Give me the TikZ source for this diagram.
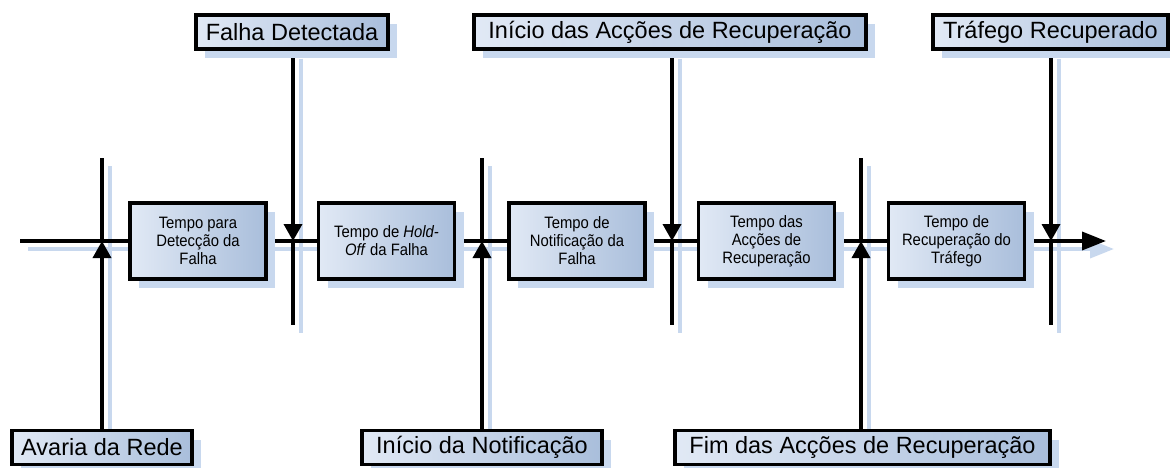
\documentclass[tikz,border=0pt]{standalone}
\usepackage{fontspec}
\setmainfont{Liberation Sans}
\newfontfamily\narrowfont[FakeStretch=0.9]{Liberation Sans}
\usetikzlibrary{arrows.meta,shadows,backgrounds,calc}
\definecolor{boxl}{HTML}{E1E9F5}
\definecolor{boxr}{HTML}{A9BEDB}
\definecolor{shadowc}{HTML}{C8D8EE}
\tikzset{
  lbl/.style={draw=black, line width=3.5pt, left color=boxl, right color=boxr,
    inner sep=0pt, minimum height=34, font=\fontsize{23.5}{26}\selectfont,
    drop shadow={shadow xshift=9pt, shadow yshift=-9pt, fill=shadowc, opacity=1}},
  tbox/.style={draw=black, line width=3.5pt, left color=boxl, right color=boxr,
    inner sep=0pt, minimum width=136, minimum height=76, align=center,
    font=\narrowfont\fontsize{16.5}{18}\selectfont,
    drop shadow={shadow xshift=9pt, shadow yshift=-9pt, fill=shadowc, opacity=1}},
  mline/.style={line width=3.5pt, draw=black},
  sline/.style={line width=3.5pt, draw=shadowc},
  tip/.style={-{Triangle[length=17pt,width=18pt]}},
  endtip/.style={-{Triangle[length=24pt,width=18pt]}},
}
\begin{document}
\begin{tikzpicture}[x=1pt,y=-1pt]
\useasboundingbox (0,0) rectangle (1170,468);
% crossing coordinates
\coordinate (start) at (20,241);
\coordinate (end) at (1106,241);
\coordinate (x1) at (102,241);
\coordinate (x2) at (293,241);
\coordinate (x3) at (482,241);
\coordinate (x4) at (672,241);
\coordinate (x5) at (861,241);
\coordinate (x6) at (1051,241);
\coordinate (t1) at (102,158);
\coordinate (t3) at (482,158);
\coordinate (t5) at (861,158);
\coordinate (b2) at (293,325);
\coordinate (b4) at (672,325);
\coordinate (b6) at (1051,325);
% middle boxes
\node[tbox] (B1) at (198,241) {Tempo para\\Detecção da\\Falha};
\node[tbox] (B2) at (386.5,241) {Tempo de \textit{Hold-}\\\textit{Off} da Falha};
\node[tbox] (B3) at (577,241) {Tempo de\\Notificação da\\Falha};
\node[tbox] (B4) at (766.5,241) {Tempo das\\Acções de\\Recuperação};
\node[tbox] (B5) at (956.5,241) {Tempo de\\Recuperação do\\Tráfego};
% top labels
\node[lbl, minimum width=192] (FD) at (292,32) {Falha Detectada};
\node[lbl, minimum width=392] (IAR) at (670,32) {Início das Acções de Recuperação};
\node[lbl, minimum width=235] (TR) at (1050.5,32) {Tráfego Recuperado};
% bottom labels
\node[lbl, minimum width=180] (AR) at (102,447.5) {Avaria da Rede};
\node[lbl, minimum width=240] (IN) at (482,447.5) {Início da Notificação};
\node[lbl, minimum width=375] (FAR) at (862.5,447.5) {Fim das Acções de Recuperação};
\begin{pgfonlayer}{background}
  \begin{scope}[transform canvas={shift={(8pt,-8pt)}}]
    \draw[sline, endtip] (start) -- (end);
    \draw[sline] (AR.north -| x1) -- (t1);
    \draw[sline] (IN.north -| x3) -- (t3);
    \draw[sline] (FAR.north -| x5) -- (t5);
    \draw[sline] (FD.south -| x2) -- (b2);
    \draw[sline] (IAR.south -| x4) -- (b4);
    \draw[sline] (TR.south -| x6) -- (b6);
  \end{scope}
  \draw[mline, endtip] (start) -- (end);
  \draw[mline, tip] (AR.north -| x1) -- (x1);
  \draw[mline] (x1) -- (t1);
  \draw[mline, tip] (IN.north -| x3) -- (x3);
  \draw[mline] (x3) -- (t3);
  \draw[mline, tip] (FAR.north -| x5) -- (x5);
  \draw[mline] (x5) -- (t5);
  \draw[mline, tip] (FD.south -| x2) -- (x2);
  \draw[mline] (x2) -- (b2);
  \draw[mline, tip] (IAR.south -| x4) -- (x4);
  \draw[mline] (x4) -- (b4);
  \draw[mline, tip] (TR.south -| x6) -- (x6);
  \draw[mline] (x6) -- (b6);
\end{pgfonlayer}
\end{tikzpicture}
\end{document}
